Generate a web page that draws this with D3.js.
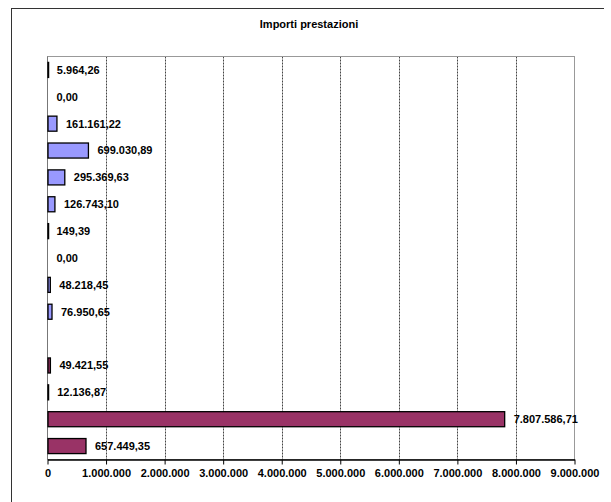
<!DOCTYPE html>
<html>
<head>
<meta charset="utf-8">
<script src="https://cdn.jsdelivr.net/npm/d3@7"></script>
<style>
  html, body { margin: 0; padding: 0; background: #fff; }
  svg { display: block; font-family: "Liberation Sans", Arial, sans-serif; }
</style>
</head>
<body>
<svg id="chart" width="611" height="502"></svg>
<script>
// ---- Data ----
const title = "Importi prestazioni";
const categories = ["r1","r2","r3","r4","r5","r6","r7","r8","r9","r10","r11","r12","r13","r14","r15"];
const values = [5964.26, 0.00, 161161.22, 699030.89, 295369.63, 126743.10, 149.39, 0.00, 48218.45, 76950.65, null, 49421.55, 12136.87, 7807586.71, 657449.35];
const seriesOf = ["A","A","A","A","A","A","A","A","A","A","A","B","B","B","B"];
const seriesColors = { A: "#9999FF", B: "#993366" };
const tickValues = [0, 1000000, 2000000, 3000000, 4000000, 5000000, 6000000, 7000000, 8000000, 9000000];

const it = d3.formatLocale({ decimal: ",", thousands: ".", grouping: [3], currency: ["", " €"] });
const fmtLabel = it.format(",.2f");
const fmtTick = it.format(",.0f");

const svg = d3.select("#chart");

// outer chart border (only top/left visible in frame)
svg.append("line").attr("x1", 11).attr("x2", 604).attr("y1", 8.5).attr("y2", 8.5)
  .attr("stroke", "#333").attr("stroke-width", 1);
svg.append("line").attr("x1", 11.5).attr("x2", 11.5).attr("y1", 8).attr("y2", 502)
  .attr("stroke", "#333").attr("stroke-width", 1);

const plot = { left: 47.5, right: 574.5, top: 56.5, bottom: 459.5 };

const x = d3.scaleLinear().domain([0, 9000000]).range([plot.left, plot.right]);
const y = d3.scaleBand().domain(categories).range([plot.top, plot.bottom]).paddingInner(0.44).paddingOuter(0.22);

// title
svg.append("text").attr("x", 309).attr("y", 28).attr("text-anchor", "middle")
  .attr("font-size", 11).attr("font-weight", "bold").text(title);

// gridlines
svg.append("g").selectAll("line").data(tickValues.slice(1, -1)).join("line")
  .attr("x1", d => Math.round(x(d)) + 0.5).attr("x2", d => Math.round(x(d)) + 0.5)
  .attr("y1", plot.top).attr("y2", plot.bottom)
  .attr("stroke", "#444").attr("stroke-width", 1).attr("stroke-dasharray", "2,1");

// plot frame (grey)
svg.append("rect").attr("x", plot.left).attr("y", plot.top)
  .attr("width", plot.right - plot.left).attr("height", plot.bottom - plot.top)
  .attr("fill", "none").attr("stroke", "#999").attr("stroke-width", 1);
// left axis line
svg.append("line").attr("x1", plot.left).attr("x2", plot.left).attr("y1", plot.top).attr("y2", plot.bottom)
  .attr("stroke", "#777").attr("stroke-width", 1);

// bars
const rows = categories.map((c, i) => ({ c, v: values[i], s: seriesOf[i] }));
svg.append("g").selectAll("rect").data(rows.filter(d => d.v != null && d.v > 0)).join("rect")
  .attr("x", plot.left + 0.5)
  .attr("y", d => y(d.c))
  .attr("width", d => Math.max(0.6, x(d.v) - plot.left - 0.5))
  .attr("height", y.bandwidth())
  .attr("fill", d => seriesColors[d.s])
  .attr("stroke", "#000").attr("stroke-width", 1.3);

// bar labels
svg.append("g").selectAll("text").data(rows.filter(d => d.v != null)).join("text")
  .attr("x", d => x(d.v) + 9)
  .attr("y", d => y(d.c) + y.bandwidth() / 2)
  .attr("dy", "0.36em")
  .attr("font-size", 11).attr("font-weight", "bold").attr("fill", "#000")
  .text(d => fmtLabel(d.v));

// x axis
const xAxis = d3.axisBottom(x).tickValues(tickValues).tickFormat(fmtTick).tickSizeOuter(0).tickSizeInner(5).tickPadding(5);
const gx = svg.append("g").attr("transform", `translate(0,${plot.bottom})`).call(xAxis);
gx.select(".domain").attr("stroke", "#000").attr("stroke-width", 1.3);
gx.selectAll(".tick line").attr("stroke", "#000");
gx.selectAll(".tick text").attr("font-size", 11).attr("font-weight", "bold")
  .attr("font-family", "Liberation Sans, Arial, sans-serif").attr("fill", "#000");
</script>
</body>
</html>
